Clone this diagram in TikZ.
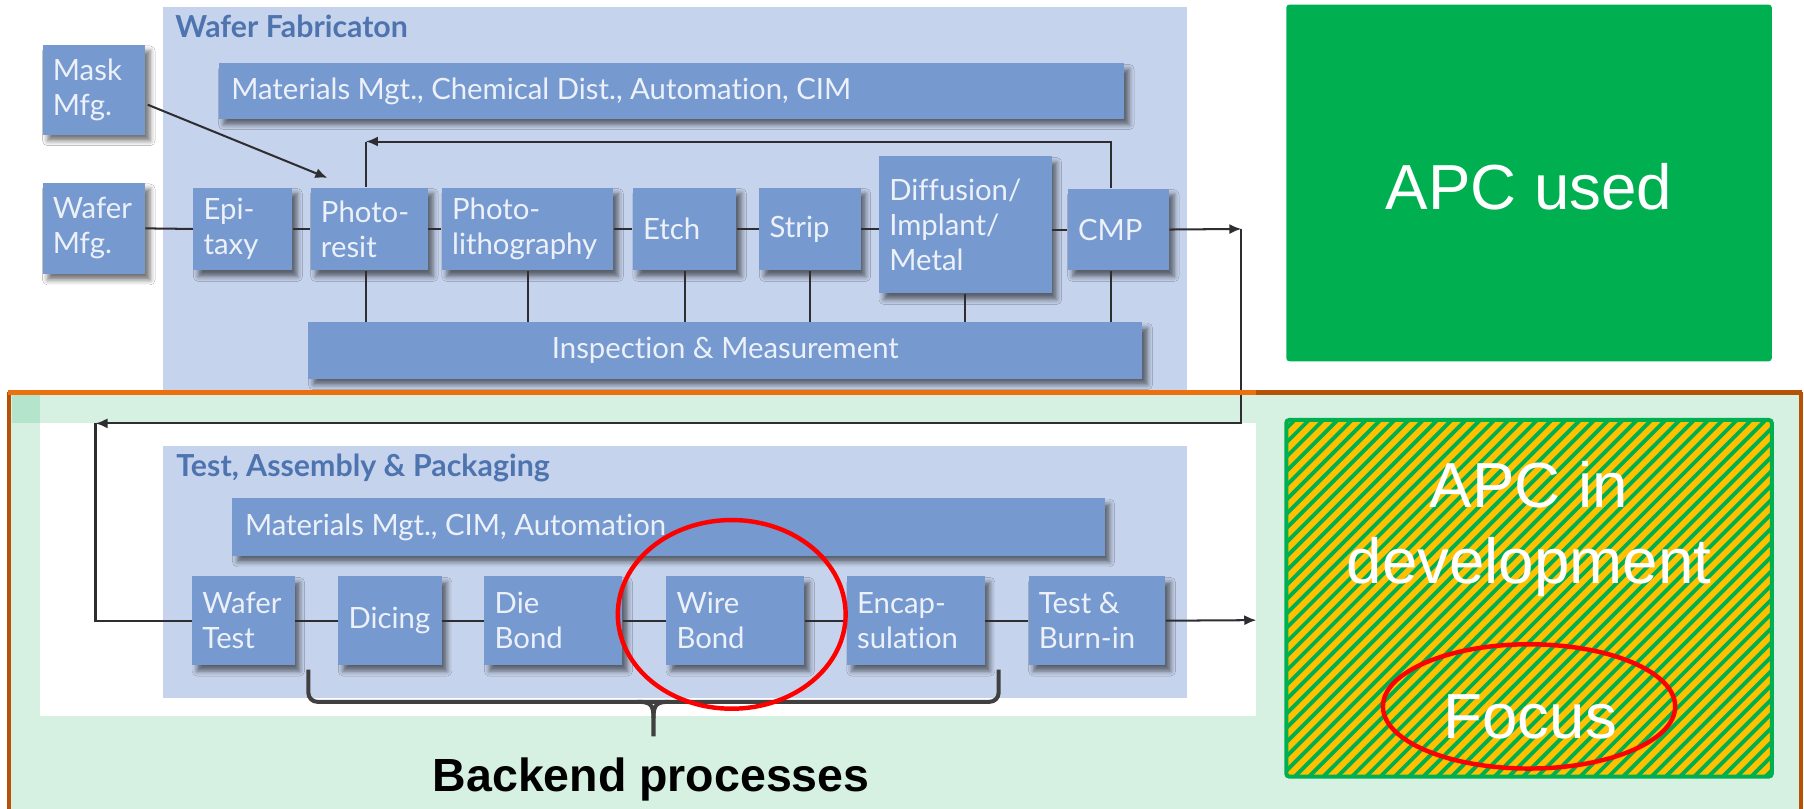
\documentclass[tikz,border=0pt]{standalone}
\usepackage{fontspec}
\newfontfamily\lato[Ligatures={NoCommon}]{Lato}
\newfontfamily\arial{Liberation Sans}
\usetikzlibrary{fit,calc,shadows.blur,arrows.meta}
\definecolor{panelc}{RGB}{198,211,236}
\definecolor{boxc}{RGB}{118,153,208}
\definecolor{boxtxt}{RGB}{236,241,249}
\definecolor{titlec}{RGB}{78,116,176}
\definecolor{lgreen}{RGB}{214,241,226}
\definecolor{dgreensq}{RGB}{180,229,204}
\definecolor{orangec}{RGB}{236,112,12}
\definecolor{brownc}{RGB}{182,82,8}
\definecolor{apcgreen}{RGB}{0,176,80}
\definecolor{goldc}{RGB}{255,192,0}
\definecolor{linec}{RGB}{45,45,50}
\definecolor{bracec}{RGB}{64,64,64}
\newcommand{\procbox}[6]{%
  \node[pbox, fit={(#2,#3) (#4,#5)}] (#1) {};
  \node[lbl, anchor=west] (#1-t) at ($(#1.west)+(9,0)$) {#6};}
\begin{document}
\begin{tikzpicture}[x=0.02cm,y=-0.02cm,
  pbox/.style={fill=boxc, inner sep=0pt, blur shadow={shadow xshift=2.5pt, shadow yshift=-3pt, shadow blur radius=2.5pt, shadow opacity=55}},
  lbl/.style={text=boxtxt, font=\lato\fontsize{14.5}{17.3}\selectfont, align=left, inner sep=0pt},
  ttl/.style={text=titlec, font=\lato\bfseries\fontsize{15}{18}\selectfont, inner sep=0pt, anchor=base west},
  conn/.style={draw=linec, line width=1pt},
  arr/.style={conn, -{Latex[length=6pt,width=5pt]}},
  apctxt/.style={font=\arial\fontsize{31.5}{37.6}\selectfont, text=white, inner sep=0pt},
  redring/.style={draw=red, line width=2.2pt},
  ]
\useasboundingbox (0,0) rectangle (1568,703);
\fill[white] (0,0) rectangle (1568,703);

% ---------- upper panel ----------
\node[fill=panelc, inner sep=0pt, fit={(142,6) (1032,341)}] (fabpanel) {};
\node[ttl] (fabtitle) at (152,32.5) {Wafer Fabricaton};

% ---------- lower frame ----------
\fill[lgreen] (8,341) rectangle (1566,712);
\fill[dgreensq] (10,343) rectangle (35,368);
\fill[white] (35,368) rectangle (1092,622);

% upper boxes
\procbox{mask}{37}{39}{126}{117}{Mask\\Mfg.}
\procbox{wmfg}{37}{159}{126}{238}{Wafer\\Mfg.}
\node[pbox, fit={(190,55) (977,103)}] (matA) {};
\node[lbl, anchor=west] (matA-t) at ($(matA.west)+(11,0)$) {Materials Mgt., Chemical Dist., Automation, CIM};
\procbox{epi}{168}{163}{254}{235}{Epi-\\taxy}
\procbox{presit}{270}{163}{372}{235}{Photo-\\resit}
\procbox{plith}{384}{163}{533}{235}{Photo-\\lithography}
\procbox{etch}{550}{163}{640}{235}{Etch}
\procbox{strip}{660}{163}{748}{235}{Strip}
\procbox{diff}{764}{136}{914}{255}{Diffusion/\\Implant/\\Metal}
\procbox{cmp}{928}{164}{1016}{235}{CMP}
\node[pbox, fit={(268,280) (993,329)}] (insp) {};
\node[lbl] (insp-t) at (insp.center) {Inspection \& Measurement};

% lower panel
\node[fill=panelc, inner sep=0pt, fit={(142,388) (1032,607)}] (tappanel) {};
\node[ttl] (taptitle) at (153,414.5) {Test, Assembly \& Packaging};
\node[pbox, fit={(202,433) (960,483)}] (matB) {};
\node[lbl, anchor=west] (matB-t) at ($(matB.west)+(11,0)$) {Materials Mgt., CIM, Automation};
\procbox{wtest}{167}{501}{256}{578}{Wafer\\Test}
\procbox{dicing}{294}{501}{384}{578}{Dicing}
\procbox{dbond}{421}{501}{541}{578}{Die\\Bond}
\procbox{wbond}{579}{501}{699}{578}{Wire\\Bond}
\procbox{encap}{736}{501}{856}{578}{Encap-\\sulation}
\procbox{tburn}{894}{501}{1013}{578}{Test \&\\Burn-in}

% ---------- connectors upper ----------
\draw[conn] (wmfg.east) -- (epi.west);
\draw[conn] (epi.east) -- (presit.west);
\draw[conn] (presit.east) -- (plith.west);
\draw[conn] (plith.east) -- (etch.west);
\draw[conn] (etch.east) -- (strip.west);
\draw[conn] (strip.east) -- (strip.east -| diff.west);
\draw[conn] (cmp.west -| diff.east) -- (cmp.west);
\coordinate (fbR) at (966,123);
\coordinate (fbL) at (318,123);
\draw[arr] (fbR |- cmp.north) -- (fbR) -- (fbL);
\draw[conn] (fbL) -- (fbL |- presit.north);
\draw[conn] (fbL |- presit.south) -- (fbL |- insp.north);
\draw[conn] (plith.south) -- (plith.south |- insp.north);
\draw[conn] (etch.south) -- (etch.south |- insp.north);
\draw[conn] (strip.south) -- (strip.south |- insp.north);
\draw[conn] (diff.south) -- (diff.south |- insp.north);
\draw[conn] (fbR |- cmp.south) -- (fbR |- insp.north);
\draw[arr] ($(mask.east)+(2,13)$) -- ($(presit.north west)+(15,-8)$);

\coordinate (outR) at (1079,199);
\coordinate (loopL) at (83,368);
\draw[arr] (cmp.east) -- (outR);
\draw[arr] (outR) -- (outR |- loopL) -- (loopL);
\draw[conn] (loopL) -- (loopL |- wtest.west) -- (wtest.west);

% ---------- connectors lower ----------
\draw[conn] (wtest.east) -- (dicing.west);
\draw[conn] (dicing.east) -- (dbond.west);
\draw[conn] (dbond.east) -- (wbond.west);
\draw[conn] (wbond.east) -- (encap.west);
\draw[conn] (encap.east) -- (tburn.west);
\coordinate (outB) at (1092,539);
\draw[arr] (tburn.east) -- (outB);

% ---------- frame border ----------
\draw[brownc, line width=2pt] (8,341) -- (8,712);
\draw[brownc, line width=2pt] (1565,341) -- (1565,712);
\draw[brownc, line width=2.3pt] (1092,341) -- (1566,341);
\draw[orangec, line width=2.3pt] (7,341) -- (1092,341);

% ---------- brace and label ----------
\draw[bracec, line width=2pt, rounded corners=4.5pt] (268,582) -- (268,610) -- (868,610) -- (868,582);
\draw[bracec, line width=2pt] (554,610) .. controls (565,610) and (568,612) .. (568,624) -- (568,640);
\draw[bracec, line width=2pt] (582,610) .. controls (571,610) and (568,612) .. (568,624);
\node[font=\arial\bfseries\fontsize{23}{27}\selectfont, anchor=base, inner sep=0pt] (backend) at (566,688) {Backend processes};
\draw[redring] (636,534) ellipse [x radius=99, y radius=82];

% ---------- APC boxes ----------
\node[fill=apcgreen, rounded corners=1.5pt, inner sep=0pt, fit={(1118,4) (1540,314)}] (apcused) {};
\node[apctxt, anchor=base] (apcused-t) at (1329,182) {APC used};

\begin{scope}
  \clip (1118,365) rectangle (1540,675);
  \fill[goldc] (1118,365) rectangle (1540,675);
  \foreach \i in {0,...,62}
    \draw[apcgreen, line width=1.9pt] ({1118-330+\i*12.4},690) -- ({1118+\i*12.4+15},345);
\end{scope}
\node[draw=apcgreen, line width=2pt, rounded corners=1.5pt, inner sep=0pt, fit={(1118,365) (1540,675)}] (apcdev) {};
\node[apctxt, align=center] (apcdev-t) at (1329,460) {APC in\\development};
\node[apctxt, anchor=base] (focus-t) at (1330,642) {Focus};
\draw[redring] (1329,614) ellipse [x radius=127, y radius=54];
\end{tikzpicture}
\end{document}
